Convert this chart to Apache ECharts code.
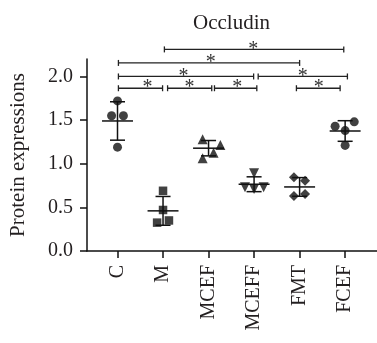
<!DOCTYPE html>
<html>
<head>
<meta charset="utf-8">
<script src="https://cdn.jsdelivr.net/npm/echarts@6/dist/echarts.min.js"></script>
<style>
html,body{margin:0;padding:0;background:#fff;}
#chart{width:377px;height:343px;}
</style>
</head>
<body>
<div id="chart"></div>
<script>
// ---- data ----
var categories = ['C', 'M', 'MCEF', 'MCEFF', 'FMT', 'FCEF'];
var valuesC     = [1.72, 1.55, 1.55, 1.19];
var valuesM     = [0.69, 0.47, 0.325, 0.35];
var valuesMCEF  = [1.28, 1.215, 1.127, 1.063];
var valuesMCEFF = [0.89, 0.73, 0.71, 0.73];
var valuesFMT   = [0.845, 0.806, 0.63, 0.654];
var valuesFCEF  = [1.48, 1.43, 1.38, 1.21];
// horizontal scatter of the points, in category units
var jitterC     = [0, -0.13, 0.13, 0];
var jitterM     = [0, 0, -0.13, 0.13];
var jitterMCEF  = [-0.13, 0.26, 0.11, -0.13];
var jitterMCEFF = [0, -0.2, 0, 0.21];
var jitterFMT   = [-0.125, 0.12, -0.125, 0.12];
var jitterFCEF  = [0.2, -0.22, 0, 0];
var means = [1.49, 0.46, 1.178, 0.765, 0.734, 1.375];
var sds   = [0.22, 0.165, 0.088, 0.085, 0.107, 0.118];
var yTicks = [0, 0.5, 1.0, 1.5, 2.0];
// significance brackets: start, end (category units), level, label, label position
var bracketStart = [0.02, 1.10, 2.13, 3.93, 0.02, 3.09, 0.02, 1.03];
var bracketEnd   = [0.99, 2.07, 3.06, 4.89, 2.99, 5.05, 4.00, 4.97];
var bracketLevel = [1.865, 1.865, 1.865, 1.865, 2.0, 2.0, 2.155, 2.31];
var bracketText  = ['*', '*', '*', '*', '*', '*', '*', '*'];
var bracketTextX = [0.66, 1.58, 2.63, 4.42, 1.45, 4.07, 2.05, 2.98];

var groupValues = [valuesC, valuesM, valuesMCEF, valuesMCEFF, valuesFMT, valuesFCEF];
var groupJitter = [jitterC, jitterM, jitterMCEF, jitterMCEFF, jitterFMT, jitterFCEF];
var symbols = ['circle', 'rect', 'triangle', 'triangle', 'diamond', 'circle'];
var symbolRot = [0, 0, 0, 180, 0, 0];
var symbolSizes = [9, 8.5, 10, 10, 10, 9];

var FONT = '"Liberation Serif", "Times New Roman", serif';
var INK = '#231f20';

var chart = echarts.init(document.getElementById('chart'), null, {renderer: 'canvas'});

var series = [];
groupValues.forEach(function (vals, g) {
  series.push({
    type: 'scatter',
    symbol: symbols[g],
    symbolRotate: symbolRot[g],
    symbolSize: symbolSizes[g],
    itemStyle: {color: '#111'},
    data: vals.map(function (v, k) { return [g + groupJitter[g][k], v]; }),
    z: 3,
    silent: true
  });
});

series.push({
  type: 'custom',
  silent: true,
  z: 4,
  data: means.map(function (m, g) { return [g, m, sds[g]]; }),
  encode: {x: 0, y: 1},
  renderItem: function (params, api) {
    var x = api.value(0), m = api.value(1), s = api.value(2);
    var style = {stroke: '#111', lineWidth: 1.5};
    var a = api.coord([x - 0.34, m]), b = api.coord([x + 0.34, m]);
    var top = api.coord([x, m + s]), bot = api.coord([x, m - s]);
    var cl = api.coord([x - 0.165, m]), cr = api.coord([x + 0.165, m]);
    return {type: 'group', children: [
      {type: 'line', shape: {x1: a[0], y1: a[1], x2: b[0], y2: b[1]}, style: style},
      {type: 'line', shape: {x1: top[0], y1: top[1], x2: bot[0], y2: bot[1]}, style: style},
      {type: 'line', shape: {x1: cl[0], y1: top[1], x2: cr[0], y2: top[1]}, style: style},
      {type: 'line', shape: {x1: cl[0], y1: bot[1], x2: cr[0], y2: bot[1]}, style: style}
    ]};
  }
});

series.push({
  type: 'custom',
  silent: true,
  clip: false,
  z: 5,
  data: bracketStart.map(function (s, i) { return [s, bracketLevel[i], bracketEnd[i], i, bracketTextX[i]]; }),
  encode: {x: 0, y: 1},
  renderItem: function (params, api) {
    var x1 = api.value(0), y = api.value(1), x2 = api.value(2), i = api.value(3), tx = api.value(4);
    var p1 = api.coord([x1, y]), p2 = api.coord([x2, y]), pt = api.coord([tx, y]);
    var style = {stroke: '#222', lineWidth: 1.3};
    return {type: 'group', children: [
      {type: 'line', shape: {x1: p1[0], y1: p1[1], x2: p2[0], y2: p2[1]}, style: style},
      {type: 'line', shape: {x1: p1[0], y1: p1[1] - 3, x2: p1[0], y2: p1[1] + 3}, style: style},
      {type: 'line', shape: {x1: p2[0], y1: p2[1] - 3, x2: p2[0], y2: p2[1] + 3}, style: style},
      {type: 'text', style: {text: bracketText[i], x: pt[0], y: p1[1] + 10,
        align: 'center', verticalAlign: 'bottom', font: '20px ' + FONT, fill: '#333'}}
    ]};
  }
});

chart.setOption({
  animation: false,
  backgroundColor: '#fff',
  title: {
    text: 'Occludin',
    left: 226.5,
    textAlign: 'center',
    top: 8,
    textStyle: {fontFamily: FONT, fontSize: 21, fontWeight: 'normal', color: INK}
  },
  grid: {left: 87, right: 0, top: 59, bottom: 92, containLabel: false},
  xAxis: {
    type: 'value',
    min: -0.67,
    max: 5.7,
    splitLine: {show: false},
    axisLine: {show: true, onZero: false, lineStyle: {color: '#111', width: 1.5}},
    axisTick: {show: true, customValues: [0, 1, 2, 3, 4, 5], length: 7, lineStyle: {color: '#111', width: 1.5}},
    axisLabel: {
      customValues: [0, 1, 2, 3, 4, 5],
      rotate: 90,
      margin: 14,
      fontFamily: FONT, fontSize: 20, color: INK,
      formatter: function (v) { return categories[Math.round(v)]; }
    }
  },
  yAxis: {
    type: 'value',
    min: 0,
    max: 2.2,
    name: 'Protein expressions',
    nameLocation: 'middle',
    nameGap: 58,
    nameTextStyle: {fontFamily: FONT, fontSize: 21, color: INK},
    splitLine: {show: false},
    axisLine: {show: true, onZero: false, lineStyle: {color: '#111', width: 1.5}},
    axisTick: {show: true, customValues: yTicks, length: 7, lineStyle: {color: '#111', width: 1.5}},
    axisLabel: {
      customValues: yTicks,
      margin: 14,
      fontFamily: FONT, fontSize: 20, color: INK,
      formatter: function (v) { return v.toFixed(1); }
    }
  },
  series: series
});
</script>
</body>
</html>
